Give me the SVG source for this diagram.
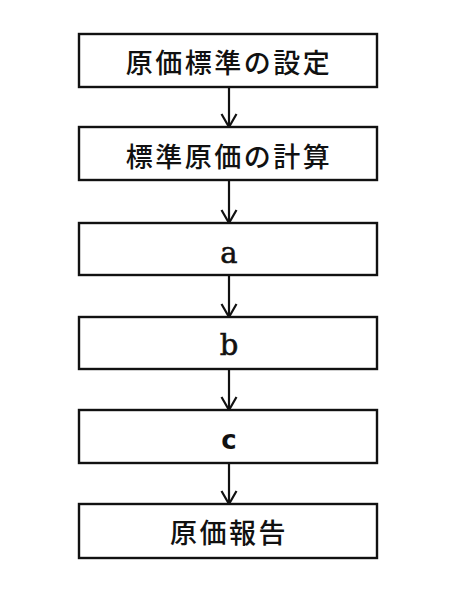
<svg xmlns="http://www.w3.org/2000/svg" width="466" height="600" viewBox="0 0 466 600">
<style>
.box{fill:#fff;stroke:#111;stroke-width:2.4}
.jp{font-family:"Noto Sans CJK JP","Noto Sans CJK SC",sans-serif;font-size:27px;font-weight:500;letter-spacing:2.5px;fill:#111;text-anchor:middle}
.ser{font-family:"DejaVu Serif",serif;font-size:29px;fill:#111;stroke:#111;stroke-width:0.6;text-anchor:middle}
.san{font-family:"DejaVu Sans",sans-serif;font-size:26px;font-weight:bold;fill:#111;text-anchor:middle}
.conn{stroke:#111;stroke-width:2.2;fill:none}
</style>
<defs>
<marker id="arr" markerUnits="userSpaceOnUse" markerWidth="20" markerHeight="20" viewBox="-15 -10 20 20" refX="0" refY="0" orient="auto" overflow="visible">
<path d="M-13,-7.5 L0,0 L-13,7.5" fill="none" stroke="#111" stroke-width="2.2"/>
</marker>
</defs>
<rect width="466" height="600" fill="#fff"/>
<g id="connectors">
<line class="conn" x1="229" y1="87" x2="229" y2="127" marker-end="url(#arr)"/>
<line class="conn" x1="229" y1="180" x2="229" y2="223" marker-end="url(#arr)"/>
<line class="conn" x1="229" y1="275" x2="229" y2="317" marker-end="url(#arr)"/>
<line class="conn" x1="229" y1="369" x2="229" y2="410" marker-end="url(#arr)"/>
<line class="conn" x1="229" y1="463" x2="229" y2="504" marker-end="url(#arr)"/>
</g>
<g id="node1"><rect class="box" x="79" y="34" width="298" height="53"/><text class="jp" x="229" y="73">原価標準の設定</text></g>
<g id="node2"><rect class="box" x="79" y="127" width="298" height="53"/><text class="jp" x="229" y="166.5">標準原価の計算</text></g>
<g id="node3"><rect class="box" x="79" y="223" width="298" height="52"/><text class="ser" x="229" y="262.5">a</text></g>
<g id="node4"><rect class="box" x="79" y="317" width="298" height="52"/><text class="ser" x="229" y="355.3">b</text></g>
<g id="node5"><rect class="box" x="79" y="410" width="298" height="53"/><text class="san" x="229" y="449.3">c</text></g>
<g id="node6"><rect class="box" x="79" y="504" width="298" height="54"/><text class="jp" x="229" y="542.5">原価報告</text></g>
</svg>
